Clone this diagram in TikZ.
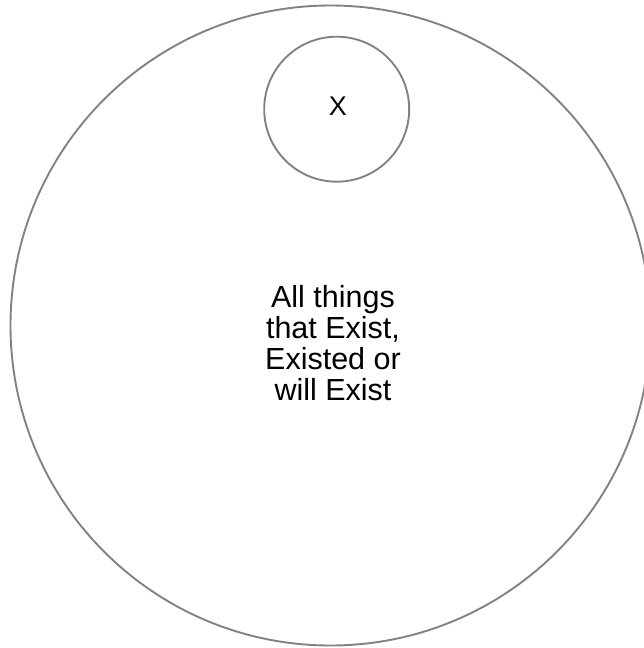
\documentclass[tikz,border=0pt]{standalone}
\usepackage{fontspec}
\setmainfont{Liberation Sans}
\usetikzlibrary{positioning}

\definecolor{ringgray}{RGB}{128,130,134}

\begin{document}
\begin{tikzpicture}[x=1pt, y=-1pt,
    ring/.style={draw=ringgray, line width=1.9pt, circle, inner sep=0pt},
    label text/.style={font=\fontsize{30.5}{31}\selectfont, align=center}]
    % Rahmen
    \useasboundingbox (0,0) rectangle (644,648);
    \clip (0,0) rectangle (644,648);

    % grosser Kreis
    \node[ring, minimum size=640pt] (all) at (330.5,325.5) {};

    % kleiner Kreis oben
    \node[ring, minimum size=145pt] (x) at (336.7,109.2) {};
    \node[font=\fontsize{27}{30}\selectfont] (xname) at (338,106) {X};

    % Beschriftung
    \node[label text] (things) at (333,343)
        {All things\\that Exist,\\Existed or\\will Exist};
\end{tikzpicture}
\end{document}
